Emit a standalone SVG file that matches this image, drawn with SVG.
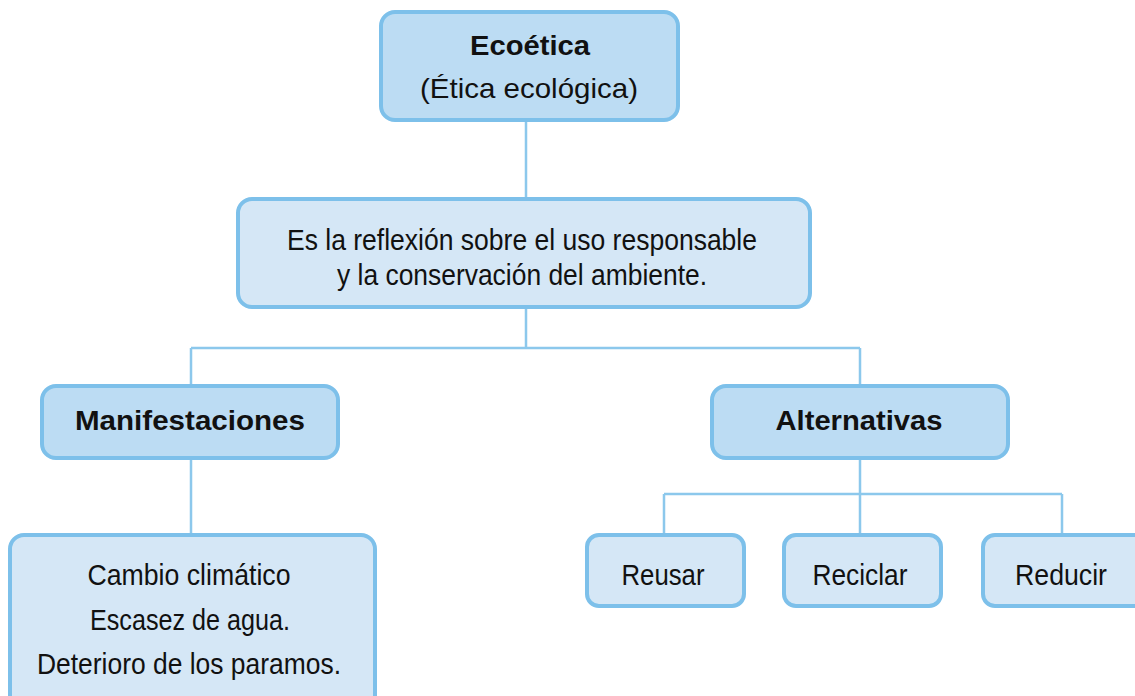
<svg xmlns="http://www.w3.org/2000/svg" width="1135" height="696" viewBox="0 0 1135 696">
<style>
.dark{fill:#bcdcf3;stroke:#7dc0ea;stroke-width:4}
.light{fill:#d5e7f6;stroke:#7dc0ea;stroke-width:4}
.conn{fill:none;stroke:#8cc8ec;stroke-width:2.5}
.b{font-family:"Liberation Sans",Arial,sans-serif;font-weight:bold;font-size:28px;fill:#111;text-anchor:middle}
.r{font-family:"Liberation Sans",Arial,sans-serif;font-size:28px;fill:#111;text-anchor:middle}
.n{font-family:"Liberation Sans Narrow","Arial Narrow","Liberation Sans",sans-serif;font-size:30px;fill:#111;text-anchor:middle}
</style>
<rect width="1135" height="696" fill="#fff"/>
<g id="connectors">
<path class="conn" d="M526 120V199M526 307V348M191 348H860M191 348V386M860 348V386M191 458V535M860 458V494M664 494H1062M664 494V535M860 494V535M1062 494V535"/>
</g>
<g id="ecoetica">
<rect class="dark" x="381" y="12" width="297" height="108" rx="14"/>
<text class="b" x="530" y="55" textLength="120" lengthAdjust="spacingAndGlyphs">Ecoética</text>
<text class="r" x="529" y="98" textLength="218" lengthAdjust="spacingAndGlyphs">(Ética ecológica)</text>
</g>
<g id="definicion">
<rect class="light" x="238" y="199" width="572" height="108" rx="14"/>
<text class="n" x="522" y="250" textLength="470" lengthAdjust="spacingAndGlyphs">Es la reflexión sobre el uso responsable</text>
<text class="n" x="522" y="285" textLength="370" lengthAdjust="spacingAndGlyphs">y la conservación del ambiente.</text>
</g>
<g id="manifestaciones">
<rect class="dark" x="42" y="386" width="296" height="72" rx="14"/>
<text class="b" x="190" y="430" textLength="230" lengthAdjust="spacingAndGlyphs">Manifestaciones</text>
</g>
<g id="lista">
<rect class="light" x="10" y="535" width="365" height="175" rx="14"/>
<text class="n" x="189" y="585" textLength="203" lengthAdjust="spacingAndGlyphs">Cambio climático</text>
<text class="n" x="190" y="630" textLength="200" lengthAdjust="spacingAndGlyphs">Escasez de agua.</text>
<text class="n" x="189" y="674" textLength="304" lengthAdjust="spacingAndGlyphs">Deterioro de los paramos.</text>
</g>
<g id="alternativas">
<rect class="dark" x="712" y="386" width="296" height="72" rx="14"/>
<text class="b" x="859" y="430" textLength="167" lengthAdjust="spacingAndGlyphs">Alternativas</text>
</g>
<g id="reusar">
<rect class="light" x="587" y="535" width="157" height="71" rx="12"/>
<text class="n" x="663" y="585" textLength="83" lengthAdjust="spacingAndGlyphs">Reusar</text>
</g>
<g id="reciclar">
<rect class="light" x="784" y="535" width="157" height="71" rx="12"/>
<text class="n" x="860" y="585" textLength="95" lengthAdjust="spacingAndGlyphs">Reciclar</text>
</g>
<g id="reducir">
<rect class="light" x="983" y="535" width="170" height="71" rx="12"/>
<text class="n" x="1061" y="585" textLength="92" lengthAdjust="spacingAndGlyphs">Reducir</text>
</g>
</svg>
